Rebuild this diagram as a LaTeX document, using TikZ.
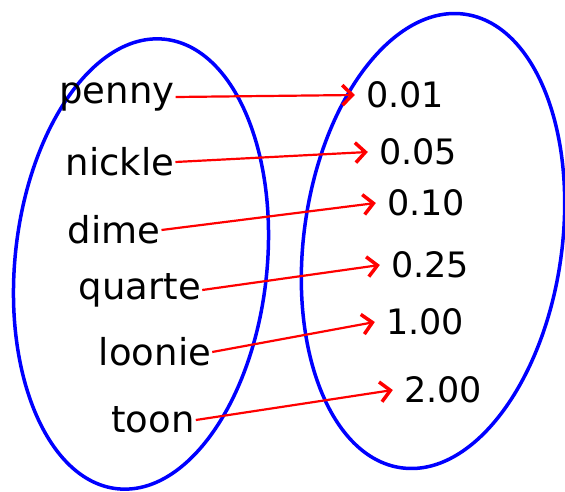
\documentclass[tikz,border=0pt]{standalone}
\usepackage{fontspec}
\setmainfont{DejaVu Sans}
\usetikzlibrary{arrows.meta}
\tikzset{
    coin/.style={font=\fontsize{37}{40}\selectfont, inner sep=1pt},
    val/.style={font=\fontsize{35}{38}\selectfont, inner sep=1pt},
    maps/.style={red, line width=2.2pt, -{Straight Barb[length=10pt,width=20pt,line width=3.5pt]}}
}
\begin{document}
\begin{tikzpicture}[x=1pt,y=-1pt]
    \useasboundingbox (0,0) rectangle (565,492);
    % the two sets
    \draw[blue, line width=3.5pt, rotate around={-6:(141,264)}] (141,264) ellipse [x radius=126, y radius=226];
    \draw[blue, line width=3.5pt, rotate around={-8:(433,241)}] (433,241) ellipse [x radius=129, y radius=229];
    % coins
    \node[coin] (penny)  at (117,97)  {penny};
    \node[coin] (nickle) at (120,162) {nickle};
    \node[coin] (dime)   at (114,230) {dime};
    \node[coin] (quarte) at (140,290) {quarte};
    \node[coin] (loonie) at (155,352) {loonie};
    \node[coin] (toon)   at (153,420) {toon};
    % values
    \node[val] (v001) at (405,95)  {0.01};
    \node[val] (v005) at (418,152) {0.05};
    \node[val] (v010) at (426,203) {0.10};
    \node[val] (v025) at (430,265) {0.25};
    \node[val] (v100) at (425,322) {1.00};
    \node[val] (v200) at (443,390) {2.00};
    \foreach \a/\b in {penny/v001,nickle/v005,dime/v010,quarte/v025,loonie/v100,toon/v200}
    \draw[maps] (\a.east) -- ([xshift=-10pt]\b.west);
\end{tikzpicture}
\end{document}
